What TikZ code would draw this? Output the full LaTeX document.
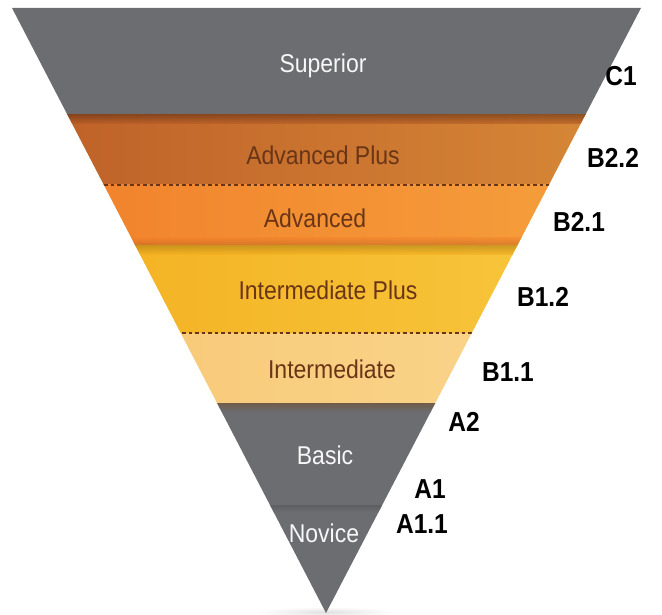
\documentclass[tikz,border=0pt]{standalone}
\usepackage{fontspec}
\setmainfont{Liberation Sans}
\usepackage{graphicx}
\definecolor{pgray}{HTML}{6C6D70}
\definecolor{apL}{HTML}{BC5E28}
\definecolor{apR}{HTML}{D98B38}
\definecolor{adL}{HTML}{F07E2A}
\definecolor{adR}{HTML}{F6A33E}
\definecolor{ipL}{HTML}{F3AE1E}
\definecolor{ipR}{HTML}{F8CA42}
\definecolor{inL}{HTML}{F7C672}
\definecolor{inR}{HTML}{FAD891}
\definecolor{brownTxt}{HTML}{6A3517}
\newcommand{\stretchtxt}[1]{\scalebox{1}[1.12]{#1}}
\tikzset{
  lvltxt/.style={font=\fontsize{23}{25}\selectfont, inner sep=0pt},
  lighttxt/.style={lvltxt, text=white!94!gray},
  darktxt/.style={lvltxt, text=brownTxt},
  codetxt/.style={font=\fontsize{24.5}{26}\selectfont\bfseries, text=black, inner sep=0pt},
  sepline/.style={brownTxt, line width=1.1pt, dash pattern=on 3.5pt off 3pt}
}
\begin{document}
\begin{tikzpicture}[x=1pt,y=-1pt]
\useasboundingbox (0,0) rectangle (662,615);
% soft shadow under apex
\shade[inner color=black!12, outer color=white] (326,612) ellipse (70 and 5);
\begin{scope}
\clip (12,8) -- (641,8) -- (326,613) -- cycle;
\fill[pgray] (0,0) rectangle (662,115);
\shade[left color=apL, right color=apR] (0,115) rectangle (662,185);
\shade[top color=black!45!apL, bottom color=apL, opacity=0.6] (0,115) rectangle (662,124);
\shade[left color=adL, right color=adR] (0,185) rectangle (662,246);
\shade[top color=adL, bottom color=black!25!adL, opacity=0.5] (0,238) rectangle (662,246);
\shade[left color=ipL, right color=ipR] (0,246) rectangle (662,333);
\shade[top color=black!25!ipL, bottom color=ipL, opacity=0.6] (0,246) rectangle (662,254);
\shade[left color=inL, right color=inR] (0,333) rectangle (662,403);
\fill[pgray] (0,403) rectangle (662,620);
\shade[top color=black!40!brown, bottom color=pgray, opacity=0.5] (0,403) rectangle (662,412);
\shade[top color=black!20!pgray, bottom color=pgray, opacity=0.6] (0,505) rectangle (662,512);
\end{scope}
\coordinate (d1L) at (0,185); \coordinate (d1R) at (662,185);
\coordinate (d2L) at (0,333); \coordinate (d2R) at (662,333);
\begin{scope}
\clip (12,8) -- (641,8) -- (326,613) -- cycle;
\draw[sepline] (d1L) -- (d1R);
\draw[sepline] (d2L) -- (d2R);
\end{scope}
% level names
\node[lighttxt] (sup) at (323,66) {\stretchtxt{Superior}};
\node[darktxt] (advp) at (323,155) {\stretchtxt{Advanced Plus}};
\node[darktxt] (adv) at (315,218) {\stretchtxt{Advanced}};
\node[darktxt] (intp) at (328,290) {\stretchtxt{Intermediate Plus}};
\node[darktxt] (intm) at (332,369) {\stretchtxt{Intermediate}};
\node[lighttxt] (bas) at (325,455) {\stretchtxt{Basic}};
\node[lighttxt] (nov) at (324,533) {\stretchtxt{Novice}};
% codes
\node[codetxt] (c1) at (621,76) {\stretchtxt{C1}};
\node[codetxt] (b22) at (613,158) {\stretchtxt{B2.2}};
\node[codetxt] (b21) at (579,222) {\stretchtxt{B2.1}};
\node[codetxt] (b12) at (543,297) {\stretchtxt{B1.2}};
\node[codetxt] (b11) at (508,372) {\stretchtxt{B1.1}};
\node[codetxt] (a2) at (464,422) {\stretchtxt{A2}};
\node[codetxt] (a1) at (430,489) {\stretchtxt{A1}};
\node[codetxt] (a11) at (422,524) {\stretchtxt{A1.1}};
\end{tikzpicture}
\end{document}
